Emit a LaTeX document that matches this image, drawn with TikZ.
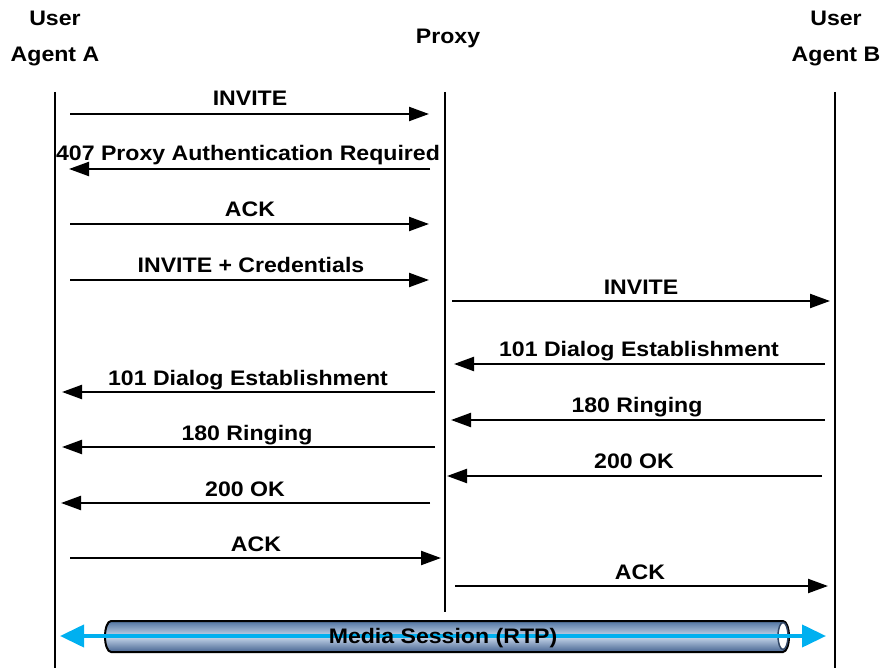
\documentclass[tikz,border=0pt]{standalone}
\usepackage{fontspec}
\setmainfont[FakeStretch=1.1]{Liberation Sans}
\usetikzlibrary{arrows.meta}
\definecolor{rtpcyan}{RGB}{0,176,240}
\definecolor{pipetop}{RGB}{80,115,160}
\definecolor{pipemid}{RGB}{200,216,236}
\definecolor{pipebot}{RGB}{70,100,145}
\tikzset{
  lbl/.style={font=\bfseries\fontsize{21}{23}\selectfont, inner sep=0pt, anchor=base},
  msg/.style={line width=2.2pt, -{Triangle[length=20pt,width=14pt]}},
  life/.style={line width=2pt},
}
\begin{document}
\begin{tikzpicture}[x=1pt,y=-1pt]
\useasboundingbox (0,0) rectangle (884,668);
% headers
\node[lbl] (ua1) at (55,26) {User};
\node[lbl] (ua2) at (55,62) {Agent A};
\node[lbl] (px) at (448,44) {Proxy};
\node[lbl] (ub1) at (836,26) {User};
\node[lbl] (ub2) at (836,62) {Agent B};
% lifelines
\coordinate (Atop) at (55,92); \coordinate (Abot) at (55,668);
\coordinate (Ptop) at (445,92); \coordinate (Pbot) at (445,612);
\coordinate (Btop) at (835,92); \coordinate (Bbot) at (835,668);
\draw[life] (Atop) -- (Abot);
\draw[life] (Ptop) -- (Pbot);
\draw[life] (Btop) -- (Bbot);
% messages
\coordinate (m1s) at (70,114); \coordinate (m1e) at (429,114);
\draw[msg] (m1s) -- (m1e);
\node[lbl] (l1) at (250,106) {INVITE};
\coordinate (m2s) at (430,169); \coordinate (m2e) at (69,169);
\draw[msg] (m2s) -- (m2e);
\node[lbl] (l2) at (248,161) {407 Proxy Authentication Required};
\coordinate (m3s) at (70,224); \coordinate (m3e) at (429,224);
\draw[msg] (m3s) -- (m3e);
\node[lbl] (l3) at (250,217) {ACK};
\coordinate (m4s) at (70,280); \coordinate (m4e) at (429,280);
\draw[msg] (m4s) -- (m4e);
\node[lbl] (l4) at (251,273) {INVITE + Credentials};
\coordinate (m5s) at (452,301); \coordinate (m5e) at (830,301);
\draw[msg] (m5s) -- (m5e);
\node[lbl] (l5) at (641,295) {INVITE};
\coordinate (m6s) at (825,364); \coordinate (m6e) at (454,364);
\draw[msg] (m6s) -- (m6e);
\node[lbl] (l6) at (639,357) {101 Dialog Establishment};
\coordinate (m7s) at (435,392); \coordinate (m7e) at (62,392);
\draw[msg] (m7s) -- (m7e);
\node[lbl] (l7) at (248,385) {101 Dialog Establishment};
\coordinate (m8s) at (825,420); \coordinate (m8e) at (451,420);
\draw[msg] (m8s) -- (m8e);
\node[lbl] (l8) at (637,413) {180 Ringing};
\coordinate (m9s) at (435,447); \coordinate (m9e) at (62,447);
\draw[msg] (m9s) -- (m9e);
\node[lbl] (l9) at (247,440) {180 Ringing};
\coordinate (m10s) at (822,476); \coordinate (m10e) at (447,476);
\draw[msg] (m10s) -- (m10e);
\node[lbl] (l10) at (634,468) {200 OK};
\coordinate (m11s) at (430,503); \coordinate (m11e) at (61,503);
\draw[msg] (m11s) -- (m11e);
\node[lbl] (l11) at (245,496) {200 OK};
\coordinate (m12s) at (70,558); \coordinate (m12e) at (441,558);
\draw[msg] (m12s) -- (m12e);
\node[lbl] (l12) at (256,551) {ACK};
\coordinate (m13s) at (455,586); \coordinate (m13e) at (828,586);
\draw[msg] (m13s) -- (m13e);
\node[lbl] (l13) at (640,579) {ACK};
% media pipe
\shade[top color=pipetop, bottom color=pipebot, middle color=pipemid, draw=black, line width=2pt]
  (111,621) -- (783,621) arc[start angle=90,end angle=-90,x radius=6pt,y radius=15.5pt]
  -- (111,652) arc[start angle=270,end angle=90,x radius=6pt,y radius=15.5pt] -- cycle;
\draw[fill=white, draw=pipebot!70!black, line width=1.5pt] (783,636) ellipse[x radius=5pt,y radius=13.5pt];
\coordinate (rtpL) at (60,636); \coordinate (rtpR) at (826,636);
\draw[rtpcyan, line width=4pt, {Triangle[length=24pt,width=22pt]}-{Triangle[length=24pt,width=22pt]}] (rtpL) -- (rtpR);
\node[lbl] (rtp) at (443,643) {Media Session (RTP)};
\end{tikzpicture}
\end{document}
